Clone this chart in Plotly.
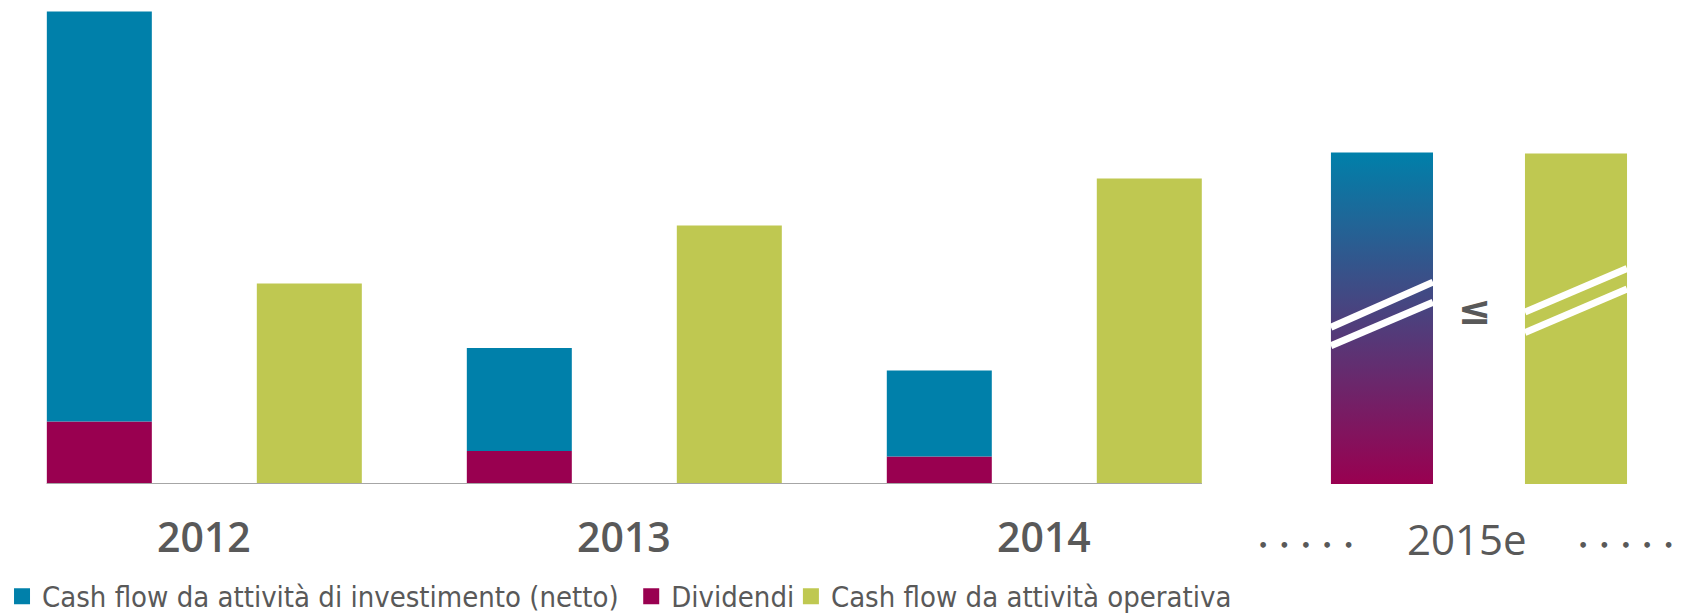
import plotly.graph_objects as go

# ---------------- data ----------------
years = ["2012", "2013", "2014"]
forecast_year = "2015e"
investimenti = [8.20, 2.06, 1.72]      # Cash flow da attività di investimento (netto)
dividendi = [1.25, 0.66, 0.55]         # Dividendi
operativo = [4.01, 5.17, 6.11]         # Cash flow da attività operativa
forecast_inv_div = 6.63                # 2015e investimenti + dividendi
forecast_operativo = 6.61              # 2015e cash flow operativo

legend_labels = ["Cash flow da attività di investimento (netto)",
                 "Dividendi",
                 "Cash flow da attività operativa"]

# ---------------- styling ----------------
BLUE = "#0080AA"
MAGENTA = "#990050"
GREEN = "#BFC851"
TEXT = "#595959"
AXIS = "#A6A6A6"
BAR_W = 0.5
F_W = 0.486
F_POS = (6.108, 7.032)       # slot positions of the 2015e bars
LEGEND_FONT = "DejaVu Sans Condensed, Liberation Sans Narrow, sans-serif"
YEAR_FONT = "Open Sans, Roboto, DejaVu Sans, sans-serif"
LEGEND_X = [0.0012, 0.3755, 0.4705]

x_inv = [2 * i for i in range(len(years))]
x_op = [2 * i + 1 for i in range(len(years))]

fig = go.Figure()

fig.add_trace(go.Bar(x=x_inv, y=dividendi, base=[0] * len(years), width=BAR_W,
                     marker=dict(color=MAGENTA, line=dict(width=0)),
                     showlegend=False, hoverinfo="skip"))
fig.add_trace(go.Bar(x=x_inv, y=investimenti, base=dividendi, width=BAR_W,
                     marker=dict(color=BLUE, line=dict(width=0)),
                     showlegend=False, hoverinfo="skip"))
fig.add_trace(go.Bar(x=x_op + [F_POS[1]], y=operativo + [forecast_operativo],
                     width=[BAR_W] * len(years) + [F_W],
                     marker=dict(color=GREEN, line=dict(width=0)),
                     showlegend=False, hoverinfo="skip"))

# gradient bar for 2015e (investimenti + dividendi)
gx0, gx1 = F_POS[0] - F_W / 2, F_POS[0] + F_W / 2
fig.add_trace(go.Scatter(x=[gx0, gx1, gx1, gx0, gx0],
                         y=[0, 0, forecast_inv_div, forecast_inv_div, 0],
                         mode="lines", line=dict(width=0), fill="toself",
                         fillgradient=dict(type="vertical",
                                           colorscale=[[0, MAGENTA], [1, BLUE]]),
                         showlegend=False, hoverinfo="skip"))

# legend entries (one legend each, to reproduce the spacing)
legend_ids = ["legend", "legend2", "legend3"]
for name, col, lid in zip(legend_labels, [BLUE, MAGENTA, GREEN], legend_ids):
    fig.add_trace(go.Scatter(x=[None], y=[None], mode="markers", name=name,
                             legend=lid, hoverinfo="skip",
                             marker=dict(symbol="square", size=16, color=col)))

shapes = []
shapes.append(dict(type="line", xref="x", yref="y",
                   x0=x_inv[0] - BAR_W / 2, x1=x_op[-1] + BAR_W / 2, y0=0, y1=0,
                   line=dict(color=AXIS, width=2), layer="above"))

breaks = [
    (F_POS[0], forecast_inv_div, [(0.473, 0.609), (0.417, 0.548)]),
    (F_POS[1], forecast_operativo, [(0.520, 0.652), (0.458, 0.590)]),
]
for cx, h, pairs in breaks:
    for fl, fr in pairs:
        shapes.append(dict(type="line", xref="x", yref="y",
                           x0=cx - F_W / 2, x1=cx + F_W / 2, y0=fl * h, y1=fr * h,
                           line=dict(color="white", width=7), layer="above"))

annotations = []
for i, yr in enumerate(years):
    annotations.append(dict(x=2 * i + 0.5, y=0, xref="x", yref="paper",
                            yshift=-52, yanchor="middle", xanchor="center",
                            text=yr, showarrow=False,
                            font=dict(family=YEAR_FONT, size=41, color=TEXT, weight=600)))
annotations.append(dict(x=(F_POS[0] + F_POS[1]) / 2, y=0, xref="x", yref="paper",
                        yshift=-54, xshift=-12, yanchor="middle", xanchor="center",
                        text=forecast_year, showarrow=False,
                        font=dict(family=YEAR_FONT, size=42, color=TEXT)))
dots = "\u00a0\u00a0".join(["•"] * 5)
for cx in (F_POS[0] - 0.36, F_POS[1] + 0.24):
    annotations.append(dict(x=cx, y=0, xref="x", yref="paper",
                            yshift=-61, yanchor="middle", xanchor="center",
                            text=dots, showarrow=False,
                            font=dict(family="DejaVu Sans", size=16, color=TEXT, weight="bold")))
annotations.append(dict(x=(F_POS[0] + F_POS[1]) / 2, y=forecast_operativo * 0.525,
                        xref="x", yref="y", xshift=-4,
                        text="≤", showarrow=False, yanchor="middle",
                        font=dict(family="DejaVu Sans", size=40, color=TEXT, weight="bold")))

legend_common = dict(orientation="h", xanchor="left", y=-0.232, yanchor="middle",
                     font=dict(family=LEGEND_FONT, size=29, color=TEXT),
                     itemsizing="trace", bgcolor="rgba(0,0,0,0)", borderwidth=0)

fig.update_layout(
    width=1681, height=615,
    margin=dict(l=0, r=0, t=0, b=131, pad=0, autoexpand=False),
    paper_bgcolor="white", plot_bgcolor="white",
    barmode="overlay",
    xaxis=dict(range=[-0.473, 7.532], visible=False, fixedrange=True),
    yaxis=dict(range=[0, 9.68], visible=False, fixedrange=True),
    shapes=shapes, annotations=annotations,
    legend=dict(x=LEGEND_X[0], **legend_common),
    legend2=dict(x=LEGEND_X[1], **legend_common),
    legend3=dict(x=LEGEND_X[2], **legend_common),
    showlegend=True,
)

fig.write_html("out.html", config={"displayModeBar": False},
               post_script="document.body.style.margin='0';document.body.style.overflow='hidden';")
